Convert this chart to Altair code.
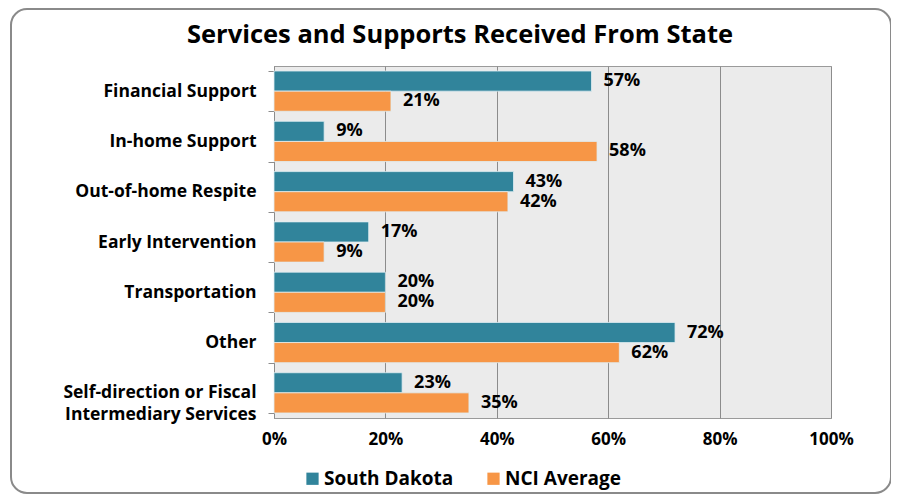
import altair as alt
import pandas as pd

title_text = "Services and Supports Received From State"
categories = [
    "Financial Support",
    "In-home Support",
    "Out-of-home Respite",
    "Early Intervention",
    "Transportation",
    "Other",
    "Self-direction or Fiscal Intermediary Services",
]
series = ["South Dakota", "NCI Average"]
south_dakota = [0.57, 0.09, 0.43, 0.17, 0.20, 0.72, 0.23]
nci_average = [0.21, 0.58, 0.42, 0.09, 0.20, 0.62, 0.35]
x_ticks = [0, 0.2, 0.4, 0.6, 0.8, 1.0]
colors = ["#31849b", "#f79646"]

rows = []
for c, a, b in zip(categories, south_dakota, nci_average):
    rows.append({"category": c, "series": series[0], "value": a})
    rows.append({"category": c, "series": series[1], "value": b})
df = pd.DataFrame(rows)

FONT = "Open Sans"

y_enc = alt.Y(
    "category:N",
    sort=categories,
    title=None,
    scale=alt.Scale(paddingInner=0.2, paddingOuter=0.1),
    axis=alt.Axis(
        labelFont=FONT,
        labelFontSize=17.5,
        labelFontWeight="bold",
        labelColor="#000000",
        labelPadding=12,
        labelLimit=300,
        labelLineHeight=22,
        tickBand="extent",
        tickSize=6,
        tickColor="#8c8c8c",
        domainColor="#8c8c8c",
        grid=False,
        labelExpr="datum.label == 'Self-direction or Fiscal Intermediary Services' ? ['Self-direction or Fiscal', 'Intermediary Services'] : datum.label",
    ),
)
x_enc = alt.X(
    "value:Q",
    title=None,
    scale=alt.Scale(domain=[0, 1], nice=False),
    axis=alt.Axis(
        values=x_ticks,
        format=".0%",
        labelFont=FONT,
        labelFontSize=17,
        labelFontWeight="bold",
        labelColor="#000000",
        labelPadding=13,
        labelFlush=False,
        ticks=False,
        domain=False,
        grid=True,
        gridColor="#8c8c8c",
        gridWidth=1,
    ),
)
y_off = alt.YOffset("series:N", sort=series)

bars = alt.Chart(df).mark_bar(stroke="#dfeef2", strokeWidth=0.8).encode(
    x=x_enc,
    y=y_enc,
    yOffset=y_off,
    color=alt.Color(
        "series:N",
        sort=series,
        scale=alt.Scale(domain=series, range=colors),
        legend=alt.Legend(
            title=None,
            orient="none",
            legendX=29,
            legendY=403,
            direction="horizontal",
            symbolType="square",
            symbolSize=150,
            symbolStrokeWidth=0,
            labelFont=FONT,
            labelFontSize=19,
            labelFontWeight="bold",
            labelColor="#000000",
            columnPadding=30,
            labelOffset=2,
        ),
    ),
)

labels = alt.Chart(df).mark_text(
    align="left", baseline="middle", dx=12, font=FONT, fontSize=18, fontWeight="bold", color="#000000"
).encode(
    x="value:Q",
    y=alt.Y("category:N", sort=categories),
    yOffset=y_off,
    text=alt.Text("value:Q", format=".0%"),
)

frame = alt.Chart(pd.DataFrame({"a": [0]})).mark_rect(
    fillOpacity=0, stroke="#8a8a8a", strokeWidth=2, cornerRadius=16
).encode(
    x=alt.value(-263), x2=alt.value(617), y=alt.value(-57), y2=alt.value(427)
)

title = alt.Chart(pd.DataFrame({"t": [title_text]})).mark_text(
    font=FONT, fontSize=25.5, fontWeight="bold", color="#000000", align="center", baseline="alphabetic"
).encode(
    text="t:N", x=alt.value(186), y=alt.value(-23)
)

chart = alt.layer(frame, title, bars, labels).properties(
    width=557,
    height=352,
    padding={"left": 266, "top": 58, "right": 60, "bottom": 76},
    autosize=alt.AutoSizeParams(type="none"),
).configure_view(
    fill="#ebebeb", stroke="#9a9a9a", strokeWidth=1
)

chart.save("out.html", embed_options={"renderer": "svg", "actions": False})
